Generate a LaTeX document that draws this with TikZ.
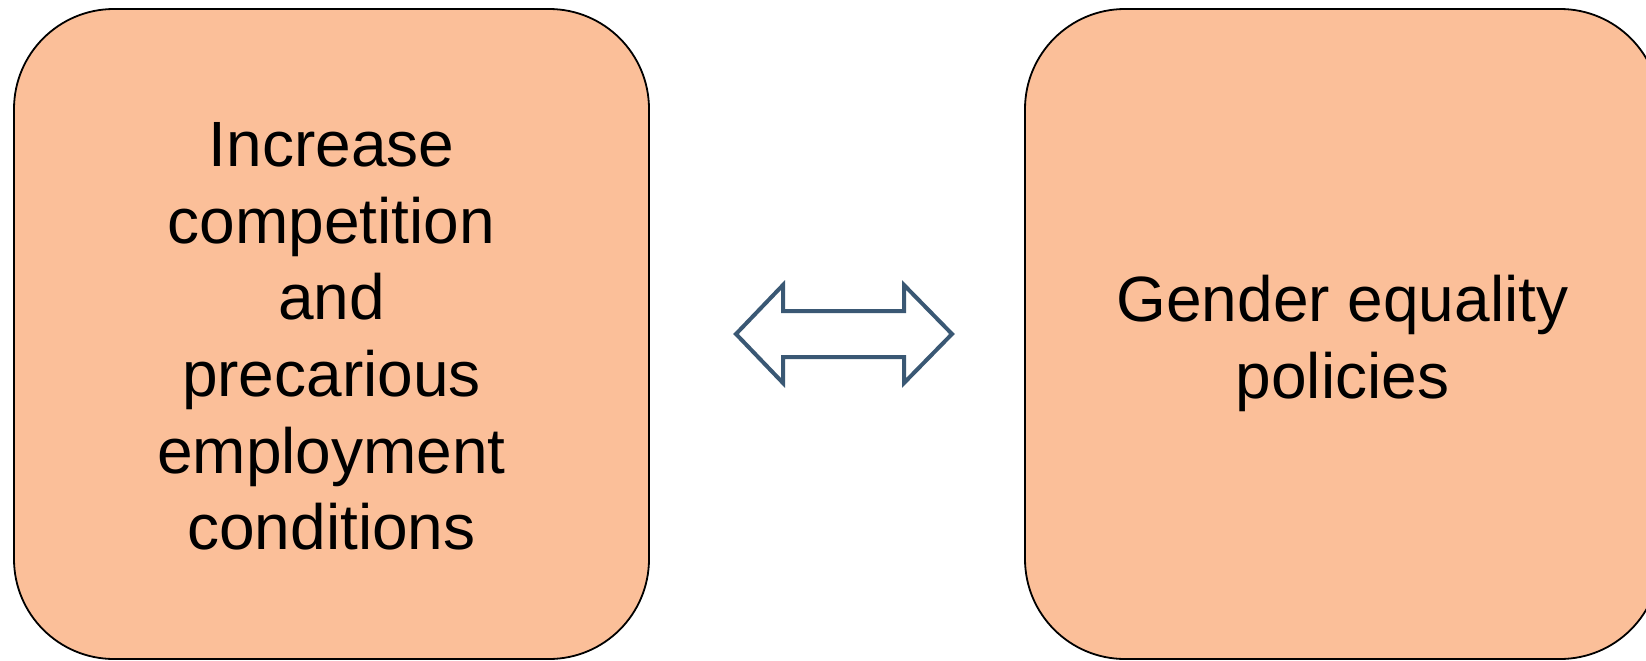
\documentclass[tikz,border=0pt]{standalone}
\usepackage{fontspec}
\setmainfont{Liberation Sans}
\definecolor{peach}{RGB}{251,191,153}
\definecolor{arrowblue}{RGB}{58,88,116}
\begin{document}
\begin{tikzpicture}[x=1pt,y=-1pt,
  box/.style={draw=black, line width=1.8pt, fill=peach, rounded corners=100pt, minimum width=635pt, minimum height=650pt, inner sep=0pt},
  label/.style={align=center, inner sep=0pt, font=\fontsize{64}{76.6}\selectfont},
  dblarrow/.style={draw=arrowblue, line width=4pt, fill=white, line join=miter}]
\clip (0,0) rectangle (1646,661);
\fill[white] (0,0) rectangle (1646,661);
\node[box] (L) at (331.5,334) {};
\node[box] (R) at (1342.5,334) {};
\node[label] (Lt) at (331.5,336.5) {Increase\\competition\\and\\precarious\\employment\\conditions};
\node[label] (Rt) at (1342.5,343.5) {Gender equality\\policies};
\coordinate (A) at (844,334);
\draw[dblarrow] ([xshift=-108pt]A) -- ([xshift=-61pt,yshift=49pt]A) -- ([xshift=-61pt,yshift=23pt]A)
  -- ([xshift=60pt,yshift=23pt]A) -- ([xshift=60pt,yshift=49pt]A) -- ([xshift=108pt]A)
  -- ([xshift=60pt,yshift=-49pt]A) -- ([xshift=60pt,yshift=-23pt]A) -- ([xshift=-61pt,yshift=-23pt]A)
  -- ([xshift=-61pt,yshift=-49pt]A) -- cycle;
\end{tikzpicture}
\end{document}
